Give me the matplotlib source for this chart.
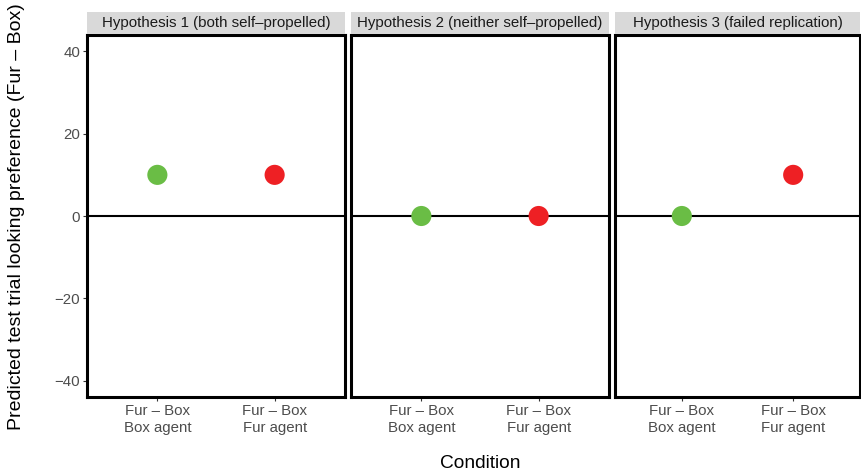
import matplotlib
matplotlib.use("Agg")
import matplotlib.pyplot as plt
from matplotlib.patches import Rectangle

plt.rcParams['font.family'] = ['Liberation Sans', 'DejaVu Sans']

# Predicted looking preference per hypothesis and condition
hypotheses = ["Hypothesis 1 (both self\u2013propelled)",
              "Hypothesis 2 (neither self\u2013propelled)",
              "Hypothesis 3 (failed replication)"]
conditions = ["Fur \u2013 Box\nBox agent", "Fur \u2013 Box\nFur agent"]
box_agent_pref = [10, 0, 0]
fur_agent_pref = [10, 0, 10]
point_colors = ["#6ABD45", "#EE2024"]
y_ticks = [-40, -20, 0, 20, 40]

W, H = 862, 475
fig = plt.figure(figsize=(W / 100, H / 100), dpi=100)

# panel pixel extents (left, right)
panel_x = [(87, 345), (351, 609), (615, 860)]
top_px, bottom_px = 35, 397
strip_top = 12

axes = []
for i, (x0, x1) in enumerate(panel_x):
    ax = fig.add_axes([x0 / W, 1 - bottom_px / H, (x1 - x0) / W, (bottom_px - top_px) / H])
    axes.append(ax)
    ax.set_xlim(0.4, 2.6)
    ax.set_ylim(-44, 44)
    ax.axhline(0, color="black", lw=1.5, zorder=1)
    vals = [box_agent_pref[i], fur_agent_pref[i]]
    ax.scatter([1, 2], vals, s=210, c=point_colors, zorder=3, linewidths=0)
    for sp in ax.spines.values():
        sp.set_linewidth(2.2)
        sp.set_color("black")
    ax.set_xticks([1, 2])
    ax.set_xticklabels(conditions, fontsize=10.8, color="#4D4D4D", linespacing=1.25)
    ax.set_yticks(y_ticks)
    ax.set_yticklabels([str(v).replace("-", "\u2212") for v in y_ticks],
                       fontsize=10.8, color="#4D4D4D")
    ax.tick_params(axis="both", length=3, width=0.8, color="#333333", pad=2)
    if i > 0:
        ax.tick_params(axis="y", left=False, labelleft=False)
    # strip header
    fig.patches.append(Rectangle((x0 / W, 1 - (top_px - 1) / H), (x1 - x0) / W,
                                 (top_px - 1 - strip_top) / H,
                                 transform=fig.transFigure, facecolor="#D9D9D9",
                                 edgecolor="none", zorder=0))
    fig.text((x0 + x1) / 2 / W, 1 - (strip_top + top_px) / 2 / H, hypotheses[i],
             ha="center", va="center", fontsize=10.8, color="#1A1A1A")

fig.text(480 / W, 1 - 464 / H, "Condition", ha="center", va="center", fontsize=13.8)
fig.text(17 / W, 1 - 217 / H, "Predicted test trial looking preference (Fur \u2013 Box)",
         ha="center", va="center", rotation=90, fontsize=14)

fig.savefig("out.png", dpi=100)
